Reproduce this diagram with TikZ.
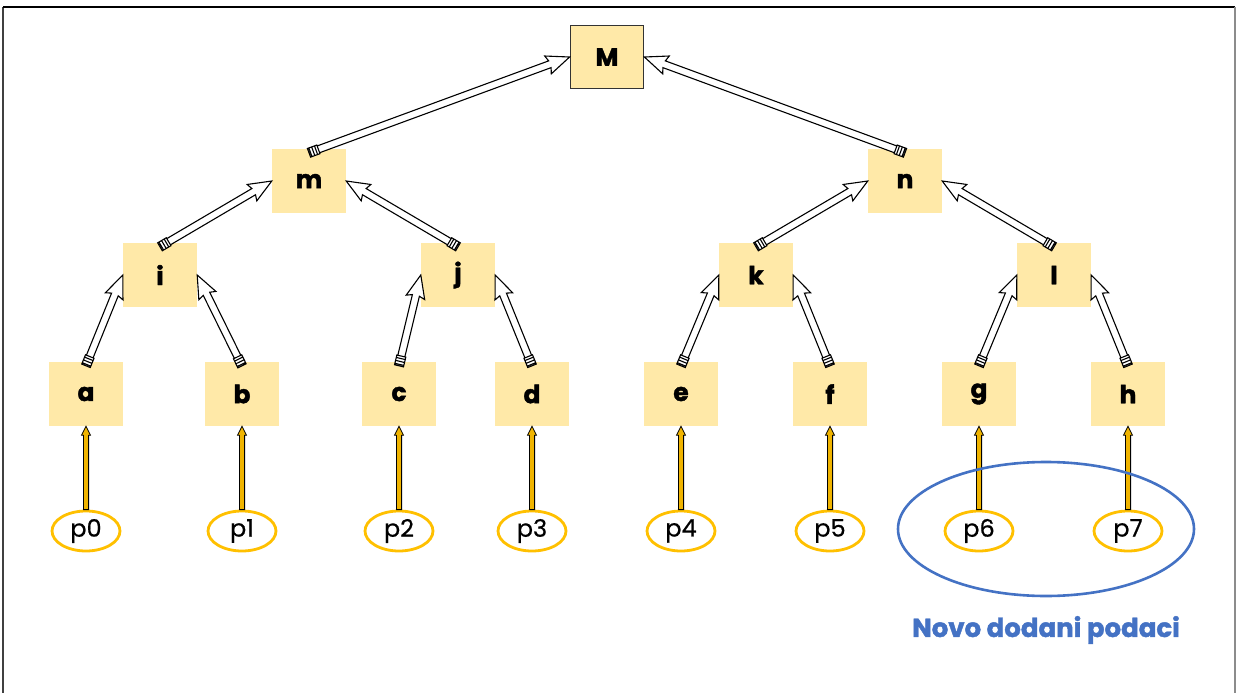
\documentclass[tikz,border=0pt]{standalone}
\usepackage{fontspec}
\setmainfont{Poppins}
\newfontfamily\heavy[BoldFeatures={FakeBold=1.6}]{Poppins}
\newfontfamily\medium[FakeBold=0.6]{Poppins}
\usetikzlibrary{calc,shapes.geometric}
\definecolor{boxfill}{HTML}{FFE9A8}
\definecolor{pring}{HTML}{FFC000}
\definecolor{pfill}{HTML}{F0B400}
\definecolor{blu}{HTML}{4472C4}
\tikzset{
 box/.style={rectangle, fill=boxfill, minimum width=74pt, minimum height=64pt, inner sep=0pt,
   font=\heavy\fontsize{25}{28}\selectfont\bfseries},
 pnode/.style={ellipse, draw=pring, line width=2.8pt, minimum width=68pt, minimum height=40pt, inner sep=0pt,
   font=\medium\fontsize{24}{26}\selectfont},
 hollow/.style={draw=black, fill=white, line width=1.1pt, line join=miter,
  to path={
   ($(\tikztostart)!10pt!(\tikztotarget)!3.6pt!90:(\tikztotarget)$) --
   ($(\tikztotarget)!21pt!(\tikztostart)!3.6pt!-90:(\tikztostart)$) --
   ($(\tikztotarget)!23pt!(\tikztostart)!9.5pt!-90:(\tikztostart)$) --
   (\tikztotarget) --
   ($(\tikztotarget)!23pt!(\tikztostart)!9.5pt!90:(\tikztostart)$) --
   ($(\tikztotarget)!21pt!(\tikztostart)!3.6pt!90:(\tikztostart)$) --
   ($(\tikztostart)!10pt!(\tikztotarget)!3.6pt!-90:(\tikztotarget)$) -- cycle
   ($(\tikztostart)!0pt!(\tikztotarget)!4.6pt!90:(\tikztotarget)$) --
   ($(\tikztostart)!10pt!(\tikztotarget)!4.6pt!90:(\tikztotarget)$) --
   ($(\tikztostart)!10pt!(\tikztotarget)!4.6pt!-90:(\tikztotarget)$) --
   ($(\tikztostart)!0pt!(\tikztotarget)!4.6pt!-90:(\tikztotarget)$) -- cycle
   ($(\tikztostart)!1.5pt!(\tikztotarget)!4.6pt!90:(\tikztotarget)$) --
   ($(\tikztostart)!1.5pt!(\tikztotarget)!4.6pt!-90:(\tikztotarget)$)
   ($(\tikztostart)!4.5pt!(\tikztotarget)!4.6pt!90:(\tikztotarget)$) --
   ($(\tikztostart)!4.5pt!(\tikztotarget)!4.6pt!-90:(\tikztotarget)$)
   ($(\tikztostart)!7.5pt!(\tikztotarget)!4.6pt!90:(\tikztotarget)$) --
   ($(\tikztostart)!7.5pt!(\tikztotarget)!4.6pt!-90:(\tikztotarget)$)
  }},
 feed/.style={draw=black, fill=pfill, line width=0.8pt, line join=miter,
  to path={
   ($(\tikztostart)!0pt!(\tikztotarget)!2.6pt!90:(\tikztotarget)$) --
   ($(\tikztotarget)!9pt!(\tikztostart)!2.6pt!-90:(\tikztostart)$) --
   ($(\tikztotarget)!9pt!(\tikztostart)!4.5pt!-90:(\tikztostart)$) --
   (\tikztotarget) --
   ($(\tikztotarget)!9pt!(\tikztostart)!4.5pt!90:(\tikztostart)$) --
   ($(\tikztotarget)!9pt!(\tikztostart)!2.6pt!90:(\tikztostart)$) --
   ($(\tikztostart)!0pt!(\tikztotarget)!2.6pt!-90:(\tikztotarget)$) -- cycle
  }},
 frameline/.style={line width=1.5pt}
}
\begin{document}
\begin{tikzpicture}[x=1pt,y=-1pt]
\useasboundingbox (0,0) rectangle (1237,693);
\fill[white] (0,0) rectangle (1237,693);
% frame
\coordinate (f1) at (3,693);
\coordinate (f2) at (3,7);
\coordinate (f3) at (1235,7);
\coordinate (f4) at (1235,693);
\draw[frameline, draw=black!75] (f1) -- (f2);
\draw[frameline, draw=black] (f2) -- (f3);
\draw[frameline, draw=black!45] (f3) -- (f4);

% nodes
\node[box, draw=black!80, line width=1.8pt, minimum width=73pt, minimum height=63pt] (M) at (607,57) {M};
\node[box] (m) at (309,181) {m};
\node[box] (n) at (905,181) {n};
\node[box] (i) at (160,275) {i};
\node[box] (j) at (458,275) {j};
\node[box] (k) at (756,275) {k};
\node[box] (l) at (1054,275) {l};
\node[box] (a) at (86,394) {a};
\node[box] (b) at (242,394) {b};
\node[box] (c) at (399,394) {c};
\node[box] (d) at (532,394) {d};
\node[box] (e) at (681,394) {e};
\node[box] (f) at (830,394) {f};
\node[box] (g) at (979,394) {g};
\node[box] (h) at (1128,394) {h};

\foreach \nm/\x/\t in {p0/86/p0, p1/242/p1, p2/399/p2, p3/532/p3, p4/681/p4, p5/830/p5, p6/979/p6, p7/1128/p7}
  \node[pnode] (\nm) at (\x,531) {\t};

% tails of the tree arrows, slightly inside the child boxes
\foreach \nm in {m,n,i,j,k,l,a,b,c,d,e,f,g,h}
  \coordinate (\nm t) at ([yshift=-4pt]\nm.north);

% tree arrows
\draw[hollow] (mt) to (M.west);
\draw[hollow] (nt) to (M.east);
\draw[hollow] (it) to (m.west);
\draw[hollow] (jt) to (m.east);
\draw[hollow] (kt) to (n.west);
\draw[hollow] (lt) to (n.east);
\draw[hollow] (at) to (i.west);
\draw[hollow] (bt) to (i.east);
\draw[hollow] (ct) to (j.west);
\draw[hollow] (dt) to (j.east);
\draw[hollow] (et) to (k.west);
\draw[hollow] (ft) to (k.east);
\draw[hollow] (gt) to (l.west);
\draw[hollow] (ht) to (l.east);

% feed arrows
\foreach \p/\q in {p0/a, p1/b, p2/c, p3/d, p4/e, p5/f, p6/g, p7/h}
  \draw[feed] (\p.north) to (\q.south);

% new data group
\node[ellipse, draw=blu, line width=2.6pt, minimum width=296pt, minimum height=134pt] (grp) at (1046,529) {};
\node[text=blu, font=\heavy\fontsize{26}{30}\selectfont\bfseries] (lbl) at (1046,630) {Novo dodani podaci};
\end{tikzpicture}
\end{document}
